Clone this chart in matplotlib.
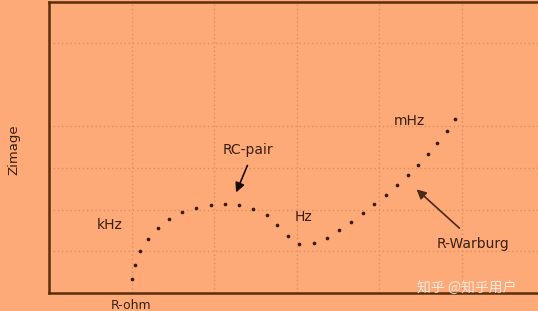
import matplotlib
matplotlib.use("Agg")
import matplotlib.pyplot as plt

# Impedance points (grid units)
x_vals = [1.006, 1.039, 1.107, 1.196, 1.318, 1.458, 1.612, 1.785, 1.960, 2.137,
          2.307, 2.476, 2.639, 2.767, 2.897, 3.034, 3.212, 3.366, 3.515, 3.661,
          3.806, 3.945, 4.082, 4.215, 4.348, 4.473, 4.594, 4.707, 4.821, 4.918]
y_vals = [0.336, 0.679, 1.007, 1.302, 1.559, 1.767, 1.935, 2.046, 2.118, 2.134,
          2.103, 2.014, 1.859, 1.624, 1.367, 1.175, 1.192, 1.326, 1.518, 1.710,
          1.918, 2.134, 2.355, 2.590, 2.823, 3.077, 3.333, 3.604, 3.878, 4.165]
x_grid = [1, 2, 3, 4, 5]
y_grid = [1, 2, 3, 4, 6]

bg = "#fdaa78"
fig = plt.figure(figsize=(5.38, 3.11), dpi=100, facecolor=bg)
ax = fig.add_axes([49/538, 18/311, (538-49)/538, (293-2)/311])
ax.set_facecolor(bg)
ax.set_xlim(0, (538-49)/82.5)
ax.set_ylim(0, (293-2)/41.7)

for gx in x_grid:
    ax.axvline(gx, color="#dc8e62", lw=1.0, ls=(0, (1, 2)), zorder=1)
for gy in y_grid:
    ax.axhline(gy, color="#dc8e62", lw=1.0, ls=(0, (1, 2)), zorder=1)

ax.scatter(x_vals, y_vals, s=7, color="#3a1a08", zorder=3, linewidths=0)

for s in ["left", "bottom", "top"]:
    ax.spines[s].set_color("#5a2d0c")
    ax.spines[s].set_linewidth(1.8)
ax.spines["right"].set_visible(False)
ax.set_xticks([])
ax.set_yticks([])

tc = "#3a2010"
fig.text(14/538, 1 - 150/311, "Zimage", rotation=90, ha="center", va="center", fontsize=9.5, color=tc)
fig.text(131/538, 1 - 299/311, "R-ohm", ha="center", va="top", fontsize=9, color=tc)
ax.text(0.739, 1.63, "kHz", ha="center", va="center", fontsize=10, color=tc)
ax.text(3.085, 1.82, "Hz", ha="center", va="center", fontsize=10, color=tc)
ax.text(4.364, 4.12, "mHz", ha="center", va="center", fontsize=10, color=tc)
ax.text(2.41, 3.43, "RC-pair", ha="center", va="center", fontsize=10, color=tc)
ax.text(5.145, 1.187, "R-Warburg", ha="center", va="center", fontsize=10, color=tc)

ax.annotate("", xy=(2.255, 2.35), xytext=(2.418, 3.12),
            arrowprops=dict(arrowstyle="-|>", color="#1a0a02", lw=1.2, mutation_scale=14))
ax.annotate("", xy=(4.43, 2.53), xytext=(5.0, 1.51),
            arrowprops=dict(arrowstyle="-|>", color="#4a2a18", lw=1.2, mutation_scale=14))

fig.text(467/538, 1 - 288/311, "知乎 @知乎用户", ha="center", va="center", fontsize=10,
         color="white", alpha=0.75, family=["Noto Sans CJK SC", "DejaVu Sans"])

fig.savefig("out.png", dpi=100, facecolor=bg)
